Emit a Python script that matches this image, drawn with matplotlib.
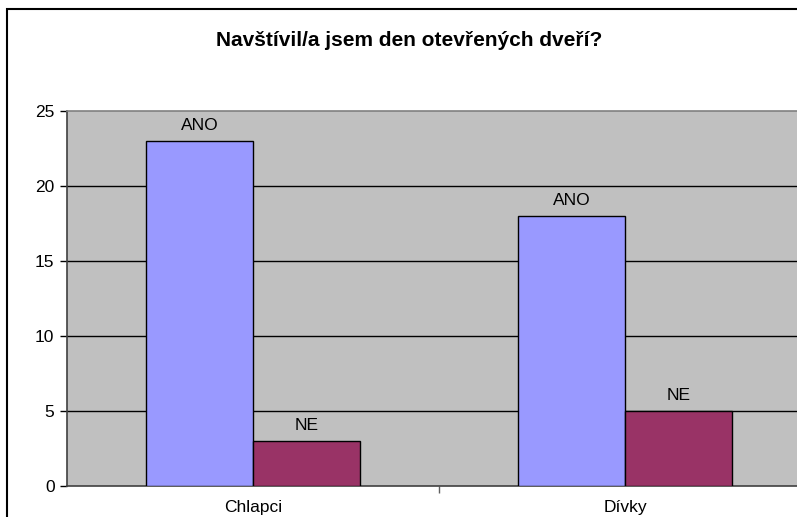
import matplotlib.pyplot as plt
from matplotlib.patches import Rectangle
import numpy as np

plt.rcParams['font.family'] = ['Liberation Sans', 'DejaVu Sans']

categories = ['Chlapci', 'Dívky']
series = ['ANO', 'NE']
ano = [23, 18]
ne = [3, 5]
yticks = [0, 5, 10, 15, 20, 25]

W, H = 797, 517
fig = plt.figure(figsize=(W / 100, H / 100), dpi=100)

# outer chart frame (runs past the right/bottom edge of the picture)
fig.patches.append(Rectangle((7 / W, -0.1), 1.2, 1 - 9 / H + 0.1,
                             transform=fig.transFigure, fill=False,
                             edgecolor='black', linewidth=1.5, zorder=0))

ax = fig.add_axes([67 / W, (H - 486) / H, 744 / W, 375 / H])
ax.set_facecolor('#C0C0C0')

x = np.arange(len(categories)) + 0.5
w = 0.287
b1 = ax.bar(x - w / 2, ano, w, color='#9999FF', edgecolor='black', linewidth=1, zorder=3)
b2 = ax.bar(x + w / 2, ne, w, color='#993366', edgecolor='black', linewidth=1, zorder=3)
for bars, lab in [(b1, 'ANO'), (b2, 'NE')]:
    for r in bars:
        ax.annotate(lab, (r.get_x() + r.get_width() / 2, r.get_height()),
                    xytext=(0, 8), textcoords='offset pixels',
                    ha='center', va='bottom', fontsize=12.5)

ax.set_xlim(0, 2)
ax.set_ylim(0, 25)
ax.set_yticks(yticks)
ax.tick_params(axis='y', direction='out', length=5, width=1, labelsize=12.5, pad=4, color='black')
ax.set_xticks([1])
ax.set_xticklabels([''])
ax.set_xticks(x, minor=True)
ax.set_xticklabels(categories, minor=True, fontsize=12.5)
ax.tick_params(axis='x', which='major', direction='out', length=5, width=1, color='#606060')
ax.tick_params(axis='x', which='minor', length=0, pad=10)

for v in yticks[1:-1]:
    ax.axhline(v, color='black', linewidth=1, zorder=1)

ax.spines['top'].set_color('#808080')
ax.spines['right'].set_visible(False)
ax.spines['left'].set_color('#404040')
ax.spines['bottom'].set_color('#404040')
for s in ax.spines.values():
    s.set_linewidth(1.2)

fig.text(409 / W, 1 - 41 / H, 'Navštívil/a jsem den otevřených dveří?',
         ha='center', va='center', fontsize=15, fontweight='bold')

fig.savefig('out.png', dpi=100)
